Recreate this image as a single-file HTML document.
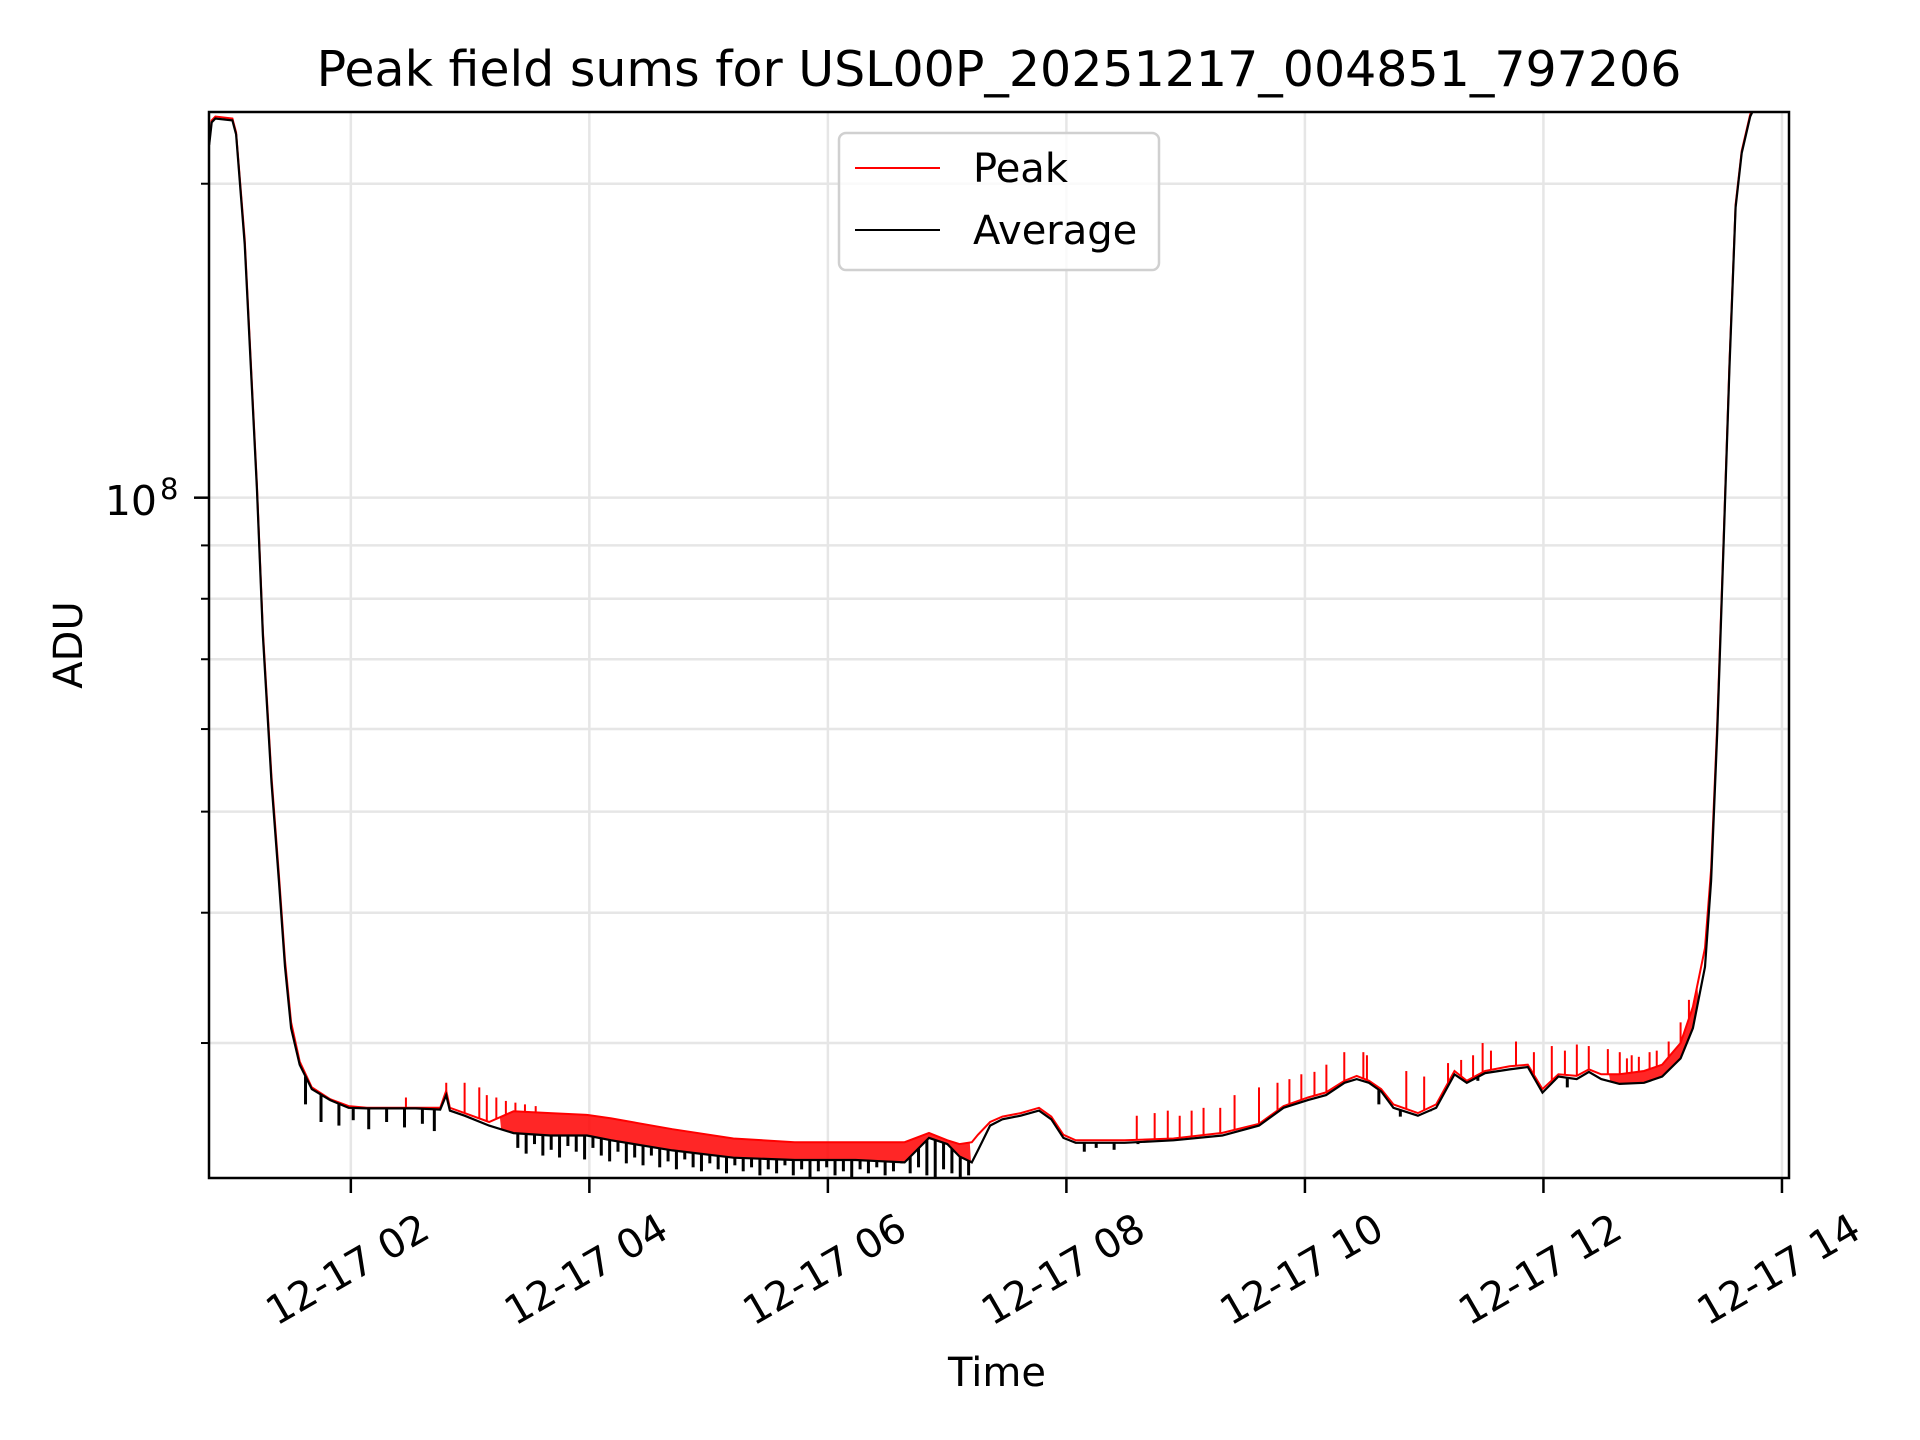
<!DOCTYPE html>
<html><head><meta charset="utf-8"><title>Peak field sums</title>
<style>
html,body{margin:0;padding:0;background:#fff;}
svg{display:block;font-family:"DejaVu Sans","Liberation Sans",sans-serif;}
</style></head>
<body>
<svg id="chart" width="1920" height="1440" viewBox="0 0 1920 1440" xmlns="http://www.w3.org/2000/svg">
<rect width="1920" height="1440" fill="#fff"/>
<defs><clipPath id="plotclip"><rect x="209" y="112" width="1580" height="1066"/></clipPath></defs>
<g id="grid"></g>
<g id="series" clip-path="url(#plotclip)"></g>
<rect x="209" y="112" width="1580" height="1066" fill="none" stroke="#000" stroke-width="2.5"/>
<g id="ticks"></g>
<text x="999" y="86" font-size="49" text-anchor="middle">Peak field sums for USL00P_20251217_004851_797206</text>
<text x="997" y="1386" font-size="40" text-anchor="middle">Time</text>
<text transform="translate(82,645) rotate(-90)" font-size="40" text-anchor="middle">ADU</text>
<text x="157" y="515" font-size="41" text-anchor="end">10</text>
<text x="160" y="499" font-size="29">8</text>
<g>
<rect x="839" y="133" width="320" height="137" rx="7" fill="#fff" fill-opacity="0.8" stroke="#d0d0d0" stroke-width="2.5"/>
<line x1="855" y1="168" x2="940" y2="168" stroke="#ff0000" stroke-width="2"/>
<text x="973" y="182" font-size="40">Peak</text>
<line x1="855" y1="230" x2="940" y2="230" stroke="#000" stroke-width="2"/>
<text x="973" y="244" font-size="40">Average</text>
</g>
</svg>
<script>
// ---- data (time in hours on 12-17, values in units of 1e7 ADU) ----
const avgT = [0.8125,0.833,0.864,1.007,1.038,1.110,1.212,1.263,1.335,1.397,1.448,1.499,1.571,1.673,1.827,1.981,2.134,2.544,2.749,2.80,2.831,2.954,3.159,3.364,3.671,3.979,4.184,4.696,5.208,5.721,6.233,6.643,6.848,7.002,7.104,7.207,7.258,7.36,7.463,7.617,7.77,7.873,7.975,8.078,8.488,8.898,9.307,9.615,9.82,10.025,10.178,10.332,10.434,10.537,10.64,10.742,10.947,11.101,11.254,11.357,11.511,11.716,11.869,11.992,12.125,12.279,12.381,12.484,12.638,12.843,12.996,13.15,13.253,13.355,13.406,13.457,13.509,13.56,13.611,13.662,13.734,13.765];
const avgV = [21.8,22.9,23.1,23.0,22.3,17.5,10.2,7.37,5.33,4.29,3.55,3.10,2.86,2.71,2.645,2.60,2.597,2.597,2.59,2.674,2.584,2.555,2.50,2.459,2.446,2.446,2.42,2.367,2.329,2.317,2.317,2.305,2.433,2.40,2.335,2.305,2.367,2.50,2.535,2.555,2.584,2.535,2.433,2.407,2.407,2.42,2.446,2.50,2.60,2.645,2.674,2.748,2.77,2.748,2.696,2.60,2.555,2.60,2.80,2.748,2.807,2.83,2.845,2.689,2.786,2.77,2.815,2.77,2.741,2.748,2.786,2.90,3.10,3.55,4.29,5.94,8.90,13.35,18.98,21.4,23.2,23.6];
const peakT = [0.8125,0.833,0.864,1.007,1.038,1.110,1.212,1.263,1.335,1.397,1.448,1.499,1.571,1.673,1.827,1.981,2.134,2.544,2.749,2.80,2.831,2.954,3.159,3.364,3.671,3.979,4.184,4.696,5.208,5.721,6.233,6.643,6.848,7.002,7.104,7.207,7.258,7.36,7.463,7.617,7.77,7.873,7.975,8.078,8.488,8.898,9.307,9.615,9.82,10.025,10.178,10.332,10.434,10.537,10.64,10.742,10.947,11.101,11.254,11.357,11.511,11.716,11.869,11.992,12.125,12.279,12.381,12.484,12.638,12.843,12.996,13.15,13.253,13.355,13.406,13.457,13.509,13.56,13.611,13.662,13.734,13.765];
const peakV = [21.9,23.0,23.2,23.1,22.4,17.7,10.3,7.45,5.40,4.35,3.60,3.14,2.88,2.72,2.65,2.61,2.60,2.60,2.60,2.70,2.60,2.57,2.52,2.58,2.57,2.56,2.54,2.48,2.43,2.41,2.41,2.41,2.46,2.42,2.40,2.41,2.45,2.52,2.55,2.57,2.60,2.55,2.45,2.42,2.42,2.43,2.46,2.51,2.61,2.66,2.69,2.76,2.79,2.76,2.71,2.62,2.57,2.62,2.82,2.76,2.82,2.85,2.86,2.71,2.80,2.79,2.83,2.80,2.80,2.82,2.86,3.0,3.25,3.70,4.40,6.05,9.0,13.5,19.1,21.5,23.3,23.7];
const spikeT = [2.462,2.80,2.954,3.077,3.14,3.22,3.30,3.38,3.46,3.55,8.59,8.74,8.85,8.95,9.05,9.15,9.29,9.41,9.615,9.77,9.87,9.97,10.08,10.18,10.33,10.49,10.52,10.85,11.0,11.20,11.31,11.41,11.49,11.56,11.77,11.92,12.07,12.18,12.28,12.38,12.54,12.64,12.70,12.74,12.80,12.89,12.95,13.05,13.15,13.22];
const spikeV = [2.66,2.748,2.748,2.72,2.674,2.66,2.64,2.63,2.62,2.61,2.555,2.57,2.584,2.555,2.584,2.60,2.60,2.674,2.72,2.748,2.77,2.80,2.815,2.86,2.94,2.94,2.92,2.82,2.786,2.87,2.89,2.92,3.0,2.95,3.01,2.94,2.98,2.95,2.99,2.98,2.96,2.94,2.90,2.92,2.91,2.94,2.95,3.01,3.14,3.30];
const dipT = [1.62,1.75,1.9,2.02,2.15,2.3,2.45,2.6,2.7,3.40,3.47,3.54,3.61,3.68,3.75,3.82,3.89,3.96,4.03,4.10,4.17,4.24,4.31,4.38,4.45,4.52,4.59,4.66,4.73,4.80,4.87,4.94,5.01,5.08,5.15,5.22,5.29,5.36,5.43,5.50,5.57,5.64,5.71,5.78,5.85,5.92,5.99,6.06,6.13,6.20,6.27,6.34,6.41,6.48,6.55,6.62,6.69,6.76,6.83,6.90,6.97,7.04,7.11,7.18,8.15,8.25,8.40,8.60,10.62,10.80,10.95,11.05,11.45,12.20];
const dipV = [2.62,2.52,2.50,2.53,2.48,2.52,2.49,2.51,2.47,2.38,2.35,2.40,2.34,2.37,2.33,2.39,2.36,2.32,2.38,2.34,2.31,2.36,2.30,2.33,2.29,2.34,2.28,2.31,2.27,2.32,2.28,2.26,2.30,2.27,2.25,2.29,2.26,2.28,2.24,2.27,2.25,2.29,2.24,2.27,2.23,2.26,2.28,2.24,2.26,2.23,2.27,2.25,2.28,2.24,2.26,2.30,2.25,2.28,2.24,2.23,2.27,2.25,2.23,2.24,2.36,2.38,2.37,2.40,2.62,2.55,2.56,2.58,2.76,2.72];
const xTickHours = [2,4,6,8,10,12,14];
const xTickLabels = ["12-17 02","12-17 04","12-17 06","12-17 08","12-17 10","12-17 12","12-17 14"];
const yMinorValues = [20,9,8,7,6,5,4,3];

// ---- scales ----
const X0 = 209, X1 = 1789, Y0 = 112, Y1 = 1178;
const tMin = 0.8107, tMax = 14.059;
const logTop = 8.3698, logBot = 7.3477;
function xs(t){ return X0 + (t - tMin) / (tMax - tMin) * (X1 - X0); }
function ys(v){ const l = Math.log10(v * 1e7); return Y0 + (logTop - l) / (logTop - logBot) * (Y1 - Y0); }
function interp(T, V, t){
  for (let i = 0; i < T.length - 1; i++){
    if (t >= T[i] && t <= T[i+1]){
      const f = (t - T[i]) / (T[i+1] - T[i]);
      return Math.exp(Math.log(V[i]) * (1 - f) + Math.log(V[i+1]) * f);
    }
  }
  return V[V.length - 1];
}
const NS = "http://www.w3.org/2000/svg";
function mk(tag, attrs, parent){ const e = document.createElementNS(NS, tag); for (const k in attrs) e.setAttribute(k, attrs[k]); parent.appendChild(e); return e; }

const grid = document.getElementById('grid');
const ticks = document.getElementById('ticks');
const series = document.getElementById('series');

xTickHours.forEach((h, i) => {
  const x = xs(h);
  if (x <= X1) {
    const g = mk('line', {x1:x, y1:Y0, x2:x, y2:Y1, stroke:'#e6e6e6', 'stroke-width':2.5}, grid);
    
    
  }
  const t = mk('line', {x1:x, y1:Y1, x2:x, y2:Y1 + 15, stroke:'#000', 'stroke-width':2.5}, ticks);
  
  
  const lab = mk('text', {transform:`translate(${x-3},${1270}) rotate(-30)`, 'font-size':40, 'text-anchor':'middle', 'dominant-baseline':'central'}, ticks);
  lab.textContent = xTickLabels[i];
  
  
});
{
  const y = ys(10);
  const g = mk('line', {x1:X0, y1:y, x2:X1, y2:y, stroke:'#e6e6e6', 'stroke-width':2.5}, grid);
  
  
  const t = mk('line', {x1:X0 - 15, y1:y, x2:X0, y2:y, stroke:'#000', 'stroke-width':2.5}, ticks);
  
  
}
yMinorValues.forEach(v => {
  const y = ys(v);
  const g = mk('line', {x1:X0, y1:y, x2:X1, y2:y, stroke:'#e6e6e6', 'stroke-width':2.5}, grid);
  
  
  const t = mk('line', {x1:X0 - 8, y1:y, x2:X0, y2:y, stroke:'#000', 'stroke-width':2}, ticks);
  
  
});

const pk = mk('path', {d: peakT.map((t,i)=>(i?'L':'M')+xs(t).toFixed(1)+','+ys(peakV[i]).toFixed(1)).join(''), fill:'none', stroke:'#ff0000', 'stroke-width':2}, series);


spikeT.forEach((t, i) => {
  const base = interp(peakT, peakV, t);
  const s = mk('line', {x1:xs(t), y1:ys(base), x2:xs(t), y2:ys(spikeV[i]), stroke:'#ff0000', 'stroke-width':2}, series);
  
  
});
function band(a, b, name){
  const pts = [];
  for (let t = a; t <= b; t += 0.02) pts.push([xs(t), ys(interp(peakT, peakV, t))]);
  for (let t = b; t >= a; t -= 0.02) pts.push([xs(t), ys(interp(avgT, avgV, t))]);
  const f = mk('polygon', {points: pts.map(p=>p[0].toFixed(1)+','+p[1].toFixed(1)).join(' '), fill:'#ff0000', 'fill-opacity':0.85}, series);
  
  
}
band(3.25, 7.2, 'peak-band-night');
band(12.55, 13.3, 'peak-band-dawn');

const av = mk('path', {d: avgT.map((t,i)=>(i?'L':'M')+xs(t).toFixed(1)+','+ys(avgV[i]).toFixed(1)).join(''), fill:'none', stroke:'#000', 'stroke-width':2.2}, series);


dipT.forEach((t, i) => {
  const base = interp(avgT, avgV, t);
  const d = mk('line', {x1:xs(t), y1:ys(base), x2:xs(t), y2:ys(dipV[i]), stroke:'#000', 'stroke-width':3}, series);
  
  
});
</script>
</body></html>
